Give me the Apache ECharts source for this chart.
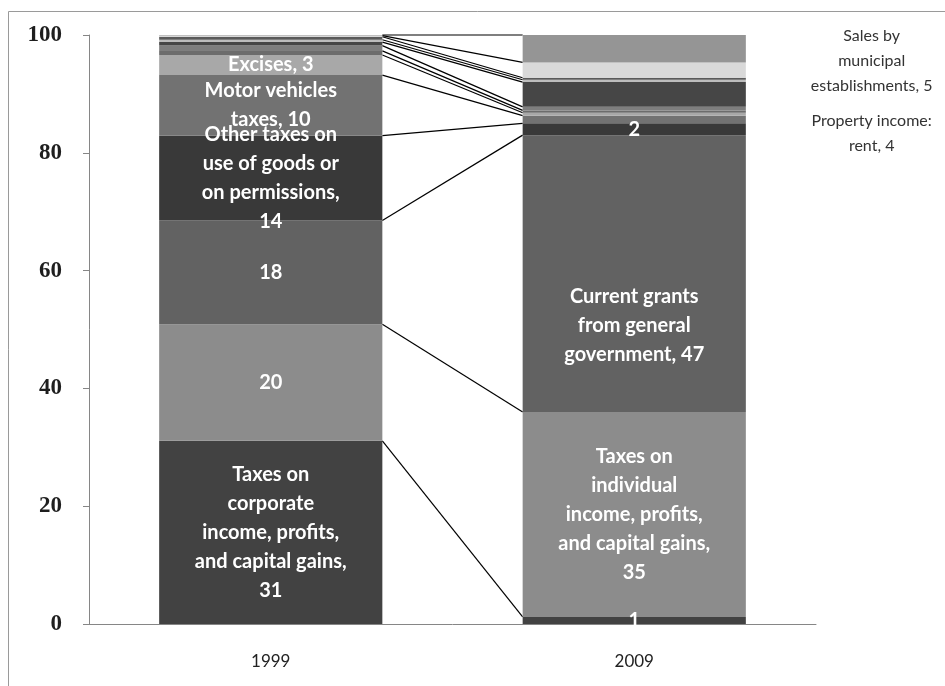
<!DOCTYPE html>
<html>
<head>
<meta charset="utf-8">
<script src="https://cdn.jsdelivr.net/npm/echarts@6/dist/echarts.min.js"></script>
<style>
  html, body { margin: 0; padding: 0; background: #fff; }
  #chart { width: 945px; height: 686px; }
</style>
</head>
<body>
<div id="chart"></div>
<script>
// Municipal revenue structure, percent of total, 1999 vs 2009
const years = ['1999', '2009'];

const seriesNames = [
  'Taxes on corporate income, profits, and capital gains',
  'Taxes on individual income, profits, and capital gains',
  'Current grants from general government',
  'Other taxes on use of goods or on permissions',
  'Motor vehicles taxes',
  'Excises',
  'Other revenue 1',
  'Other revenue 2',
  'Property income: rent',
  'Other revenue 3',
  'Other revenue 4',
  'Other revenue 5',
  'Sales by municipal establishments'
];

const values1999 = [31.1, 19.8, 17.6, 14.4, 10.3, 3.4, 0.7, 0.9, 0.6, 0.4, 0.5, 0.2, 0.1];
const values2009 = [1.2, 34.8, 47, 2, 1.3, 0.5, 0.4, 0.6, 4.2, 0.4, 0.35, 2.6, 4.65];

// label text per bar segment; {v} becomes the rounded value
const labels1999 = [
  'Taxes on\ncorporate\nincome, profits,\nand capital gains,\n{v}',
  '{v}',
  '{v}',
  'Other taxes on\nuse of goods or\non permissions,\n{v}',
  'Motor vehicles\ntaxes, {v}',
  'Excises, {v}',
  '', '', '', '', '', '', ''
];
const labels2009 = [
  '{v}',
  'Taxes on\nindividual\nincome, profits,\nand capital gains,\n{v}',
  'Current grants\nfrom general\ngovernment, {v}',
  '{v}',
  '', '', '', '',
  'Property income:\nrent, {v}',
  '', '', '',
  'Sales by\nmunicipal\nestablishments, {v}'
];

const yTicks = [0, 20, 40, 60, 80, 100];

const colors = [
  '#424242', '#8c8c8c', '#626262', '#393939', '#727272', '#a8a8a8',
  '#6c6c6c', '#7e7e7e', '#464646', '#bdbdbd', '#5a5a5a', '#d9d9d9', '#959595'
];

const BAR_RATIO = 0.614;

const insideLabel = {
  color: '#ffffff',
  fontFamily: 'Lato, "Open Sans", sans-serif',
  fontWeight: 'bold',
  fontSize: 20,
  lineHeight: 29,
  position: 'inside',
  align: 'center',
  verticalAlign: 'middle'
};

// labels placed beside the 2009 column
const outsideLabel = {
  color: '#333333',
  fontFamily: 'Lato, "Open Sans", sans-serif',
  fontWeight: 'normal',
  fontSize: 16,
  lineHeight: 25,
  align: 'center',
  verticalAlign: 'middle'
};

const labelPlacement2009 = {
  2: { offset: [0, 52] },
  8: Object.assign({ position: [349, 51] }, outsideLabel),
  12: Object.assign({ position: [349, 26] }, outsideLabel)
};

function makeLabel(tpl, v, extra) {
  if (!tpl) return { show: false };
  return Object.assign({}, insideLabel, { show: true, formatter: tpl.replace('{v}', String(Math.round(v))) }, extra || {});
}

const barSeries = seriesNames.map((name, i) => ({
  name: name,
  type: 'bar',
  stack: 'total',
  barWidth: (BAR_RATIO * 100) + '%',
  itemStyle: { color: colors[i] },
  data: [
    { value: values1999[i], label: makeLabel(labels1999[i], values1999[i]) },
    { value: values2009[i], label: makeLabel(labels2009[i], values2009[i], labelPlacement2009[i]) }
  ]
}));

// cumulative tops of each stacked segment, for the connecting series lines
const tops = [];
let c1 = 0, c2 = 0;
for (let i = 0; i < seriesNames.length; i++) {
  c1 += values1999[i];
  c2 += values2009[i];
  tops.push([0, c1, c2]);
}

const seriesLines = {
  type: 'custom',
  name: 'series lines',
  silent: true,
  z: 1,
  dimensions: ['cat', 'top1999', 'top2009'],
  encode: { x: 0, y: [1, 2] },
  data: tops,
  renderItem: function (params, api) {
    const band = api.size([1, 0])[0];
    const half = band * BAR_RATIO / 2;
    const a = api.coord([0, api.value(1)]);
    const b = api.coord([1, api.value(2)]);
    return {
      type: 'line',
      shape: { x1: a[0] + half, y1: a[1], x2: b[0] - half, y2: b[1] },
      style: { stroke: '#000000', lineWidth: 1.2 }
    };
  }
};

const chart = echarts.init(document.getElementById('chart'), null, { renderer: 'canvas' });
chart.setOption({
  animation: false,
  backgroundColor: '#ffffff',
  graphic: [{
    type: 'rect',
    shape: { x: 8.5, y: 11.5, width: 1000, height: 1000 },
    style: { fill: null, stroke: '#9a9a9a', lineWidth: 1 },
    silent: true
  }],
  grid: { left: 89, right: 129, top: 35, bottom: 62 },
  xAxis: {
    type: 'category',
    data: years,
    axisLine: { lineStyle: { color: '#868686', width: 1 } },
    axisTick: { show: false },
    axisLabel: {
      color: '#222222',
      fontFamily: 'Lato, "Open Sans", sans-serif',
      fontSize: 17,
      margin: 29
    }
  },
  yAxis: {
    type: 'value',
    min: yTicks[0],
    max: yTicks[yTicks.length - 1],
    interval: yTicks[1] - yTicks[0],
    splitLine: { show: false },
    axisLine: { show: true, lineStyle: { color: '#868686', width: 1 } },
    axisTick: { show: true, length: 6, lineStyle: { color: '#868686' } },
    axisLabel: {
      color: '#1e1e1e',
      fontFamily: '"Liberation Serif", serif',
      fontWeight: 'bold',
      fontSize: 23,
      margin: 27
    }
  },
  series: barSeries.concat([seriesLines])
});
</script>
</body>
</html>
